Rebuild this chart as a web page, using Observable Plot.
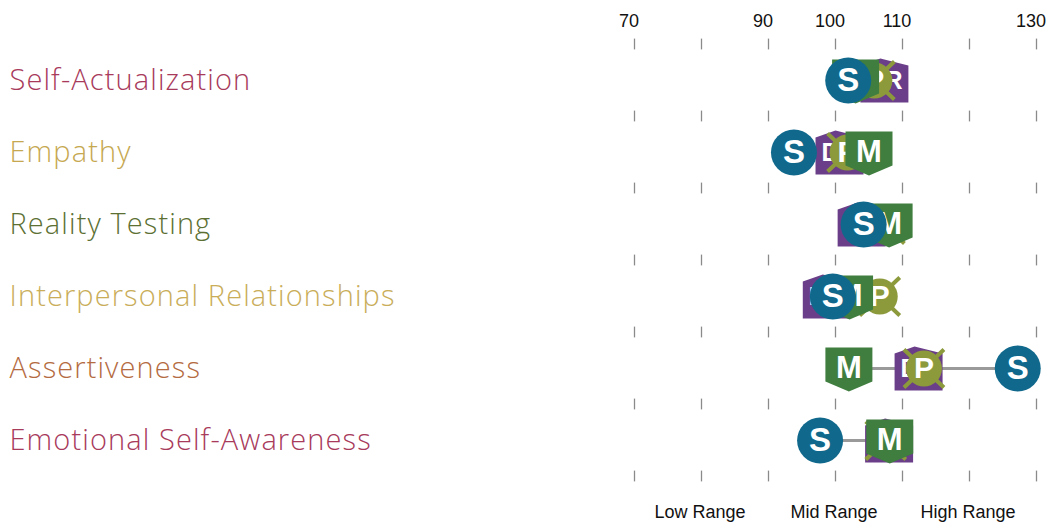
<!DOCTYPE html>
<html><head><meta charset="utf-8">
<script src="https://cdn.jsdelivr.net/npm/d3@7"></script>
<script src="https://cdn.jsdelivr.net/npm/@observablehq/plot@0.6"></script>
<style>body{margin:0;background:#fff;overflow:hidden}</style>
</head><body><div id="chart"></div>
<script>
// ---- data ----
const categories = ["Self-Actualization","Empathy","Reality Testing","Interpersonal Relationships","Assertiveness","Emotional Self-Awareness"];
const selfScores          = [101.9,  93.8, 104.2,  99.6, 127.2,  97.7];
const managerScores       = [103.0, 105.0, 108.0, 102.1, 102.0, 108.1];
const directReportScores  = [107.3, 100.6, 103.9,  98.7, 112.4, 108.0];
const peerScores          = [105.8, 101.8, 107.3, 106.6, 113.2, 107.5];
const tickValues = [70, 80, 90, 100, 110, 120, 130];
const tickLabels = [70, 90, 100, 110, 130];
const rangeLabels = ["Low Range", "Mid Range", "High Range"];
const rangeCenters = [80, 100, 120];

// ---- styles ----
const labelColors = ["#a83a5b", "#c6a851", "#5c7033", "#c9ad59", "#b46b3f", "#a83a5b"];
const BLUE = "#10698c", GREEN = "#3f7e3f", PURPLE = "#6a3e88", OLIVE = "#8c9a3c";

const circleSym = {draw(ctx, size){const r=Math.sqrt(size/Math.PI); ctx.moveTo(r,0); ctx.arc(0,0,r,0,2*Math.PI); ctx.closePath();}};
const shieldSym = {draw(ctx, size){const s=Math.sqrt(size/Math.PI)/23;
  ctx.moveTo(-23.5*s,-21*s); ctx.lineTo(23.5*s,-21*s); ctx.lineTo(23.5*s,13*s); ctx.lineTo(0,23*s); ctx.lineTo(-23.5*s,13*s); ctx.closePath();}};
const houseSym = {draw(ctx, size){const s=Math.sqrt(size/Math.PI)/23;
  ctx.moveTo(-24*s,22*s); ctx.lineTo(24*s,22*s); ctx.lineTo(24*s,-15*s); ctx.lineTo(-4*s,-22*s); ctx.lineTo(-24*s,-15*s); ctx.closePath();}};
const crossSym = {draw(ctx, size){const s=Math.sqrt(size/Math.PI)/23;
  ctx.moveTo(-20*s,-19*s); ctx.lineTo(20*s,19*s); ctx.moveTo(-20*s,19*s); ctx.lineTo(20*s,-19*s);}};

const rows = (scores) => categories.map((c, i) => ({row: i, value: scores[i]}));
const rangeRows = categories.map((c, i) => {
  const v = [selfScores[i], managerScores[i], directReportScores[i], peerScores[i]];
  return {row: i, lo: d3.min(v), hi: d3.max(v)};
});
const seps = d3.range(categories.length + 1).map(i => i - 0.5);
const tickGrid = seps.flatMap(s => tickValues.map(t => ({x: t, s})));

const FONT = "'Liberation Sans', Arial, Helvetica, sans-serif";
const LABEL_FONT = "'Open Sans', Lato, sans-serif";
const letter = (data, txt, size) => Plot.text(data, {x: "value", y: "row", text: () => txt, fill: "white",
  fontSize: size, fontWeight: "bold", fontFamily: FONT});

const marks = [
  Plot.ruleX(tickGrid, {x: "x", y1: d => d.s - 0.075, y2: d => d.s + 0.075, stroke: "#8a8a8a", strokeWidth: 1.3}),
  Plot.text(tickLabels, {x: d => d, text: d => String(d), frameAnchor: "top", dy: 21, dx: -5.5, lineAnchor: "middle",
    fontSize: 18, fontFamily: FONT, fill: "#111"}),
  Plot.text(rangeLabels, {x: (d, i) => rangeCenters[i], text: d => d, frameAnchor: "bottom", dy: -11, dx: -1.5, lineAnchor: "middle",
    fontSize: 18, fontFamily: FONT, fill: "#111"}),
  ...categories.map((c, i) => Plot.text([c], {y: () => i, text: d => d, frameAnchor: "left", dx: 9, textAnchor: "start",
    fill: labelColors[i], fontSize: 29, fontFamily: LABEL_FONT, fontWeight: 300})),
  Plot.ruleY(rangeRows, {y: "row", x1: "lo", x2: "hi", stroke: "#9a9a9a", strokeWidth: 3}),
  // Direct reports
  Plot.dot(rows(directReportScores), {x: "value", y: "row", symbol: houseSym, r: 23, fill: PURPLE, stroke: "none"}),
  letter(rows(directReportScores), "DR", 25),
  // Peers
  Plot.dot(rows(peerScores), {x: "value", y: "row", symbol: crossSym, r: 23, fill: "none", stroke: OLIVE, strokeWidth: 4}),
  Plot.dot(rows(peerScores), {x: "value", y: "row", symbol: circleSym, r: 18, fill: OLIVE, stroke: "none"}),
  letter(rows(peerScores), "P", 30),
  // Manager
  Plot.dot(rows(managerScores), {x: "value", y: "row", symbol: shieldSym, r: 23, fill: GREEN, stroke: "none"}),
  letter(rows(managerScores), "M", 31),
  // Self
  Plot.dot(rows(selfScores), {x: "value", y: "row", symbol: circleSym, r: 23, fill: BLUE, stroke: "none"}),
  letter(rows(selfScores), "S", 33)
];

const chart = Plot.plot({
  width: 1049, height: 523,
  marginLeft: 0, marginRight: 0, marginTop: 0, marginBottom: 0,
  x: {type: "linear", domain: [70, 130], range: [634, 1036], axis: null},
  y: {type: "linear", domain: [0, 5], range: [80, 440], axis: null},
  style: {background: "white", overflow: "visible"},
  marks
});
d3.select(chart).selectAll("g[font-family*='Open Sans']").attr("letter-spacing", "1.1");
document.getElementById("chart").appendChild(chart);
</script>
</body></html>
